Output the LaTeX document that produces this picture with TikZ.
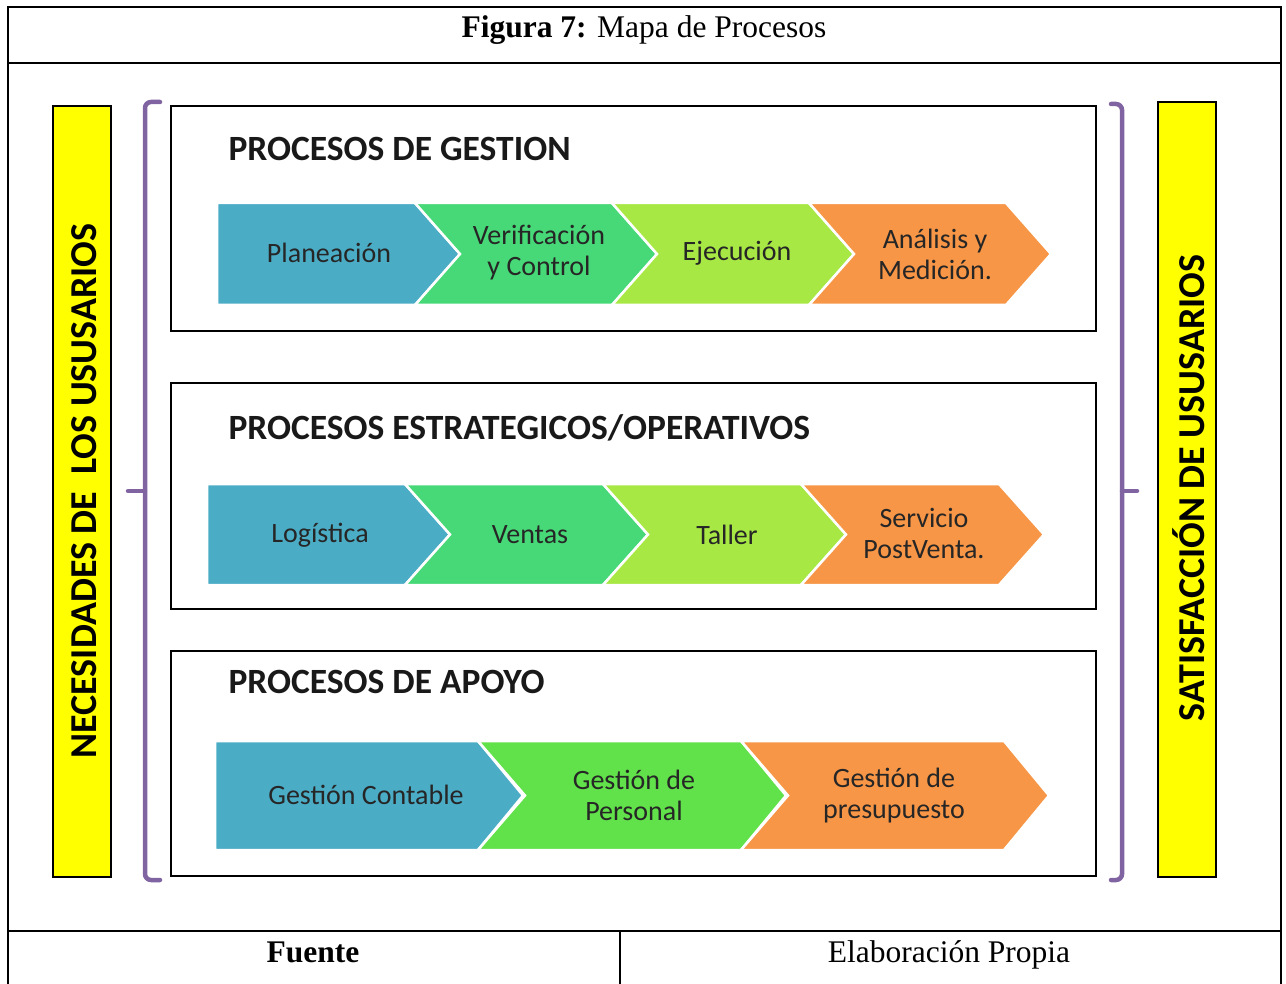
\documentclass[tikz,border=0pt]{standalone}
\usepackage{fontspec}
\setmainfont{Liberation Serif}
\newfontfamily\calib{Carlito}
\definecolor{cblue}{HTML}{4BACC6}
\definecolor{cgreen}{HTML}{47D877}
\definecolor{clime}{HTML}{A8E845}
\definecolor{corange}{HTML}{F79646}
\definecolor{cgreenb}{HTML}{61E14A}
\definecolor{cpurple}{HTML}{8064A2}
\definecolor{cyellow}{HTML}{FFFF00}
\newcommand{\chv}[6]{\filldraw[fill=#5, draw=white, line width=2.5pt, line join=miter]
  (#1,#3) -- ({#1+#2},#3) -- ({#1+#2+45},{(#3+#4)/2}) -- ({#1+#2},#4) -- (#1,#4) -- ({#1+#6},{(#3+#4)/2}) -- cycle;}
\begin{document}
\begin{tikzpicture}[x=1pt,y=-1pt,
  frame/.style={line width=2pt},
  procbox/.style={draw=black, line width=2.6pt, fill=white},
  ybox/.style={draw=black, line width=2.6pt, fill=cyellow},
  brack/.style={draw=cpurple, line width=4.5pt, line cap=round, rounded corners=6pt},
  ctext/.style={font=\calib\fontsize{28}{31}\selectfont, align=center, text=black!85},
  head/.style={font=\calib\bfseries\fontsize{35.5}{40}\selectfont, anchor=west, text=black!90},
  vtext/.style={font=\calib\bfseries\fontsize{38}{44}\selectfont, rotate=90, text=black},
  ttext/.style={font=\fontsize{31.5}{36}\selectfont, anchor=base}]
\useasboundingbox (0,0) rectangle (1286,984);
% table frame
\draw[frame] (8,995) -- (8,7) -- (1281,7) -- (1281,995);
\draw[line width=1.5pt] (8,63) -- (1281,63);
\draw[frame] (8,931) -- (1281,931);
\draw[line width=1.5pt] (620,931) -- (620,995);
\node[ttext] (title) at (644,38) {\textbf{Figura 7:} Mapa de Procesos};
\node[ttext] (fuente) at (313,962) {\textbf{Fuente}};
\node[ttext] (elab) at (949,962) {Elaboración Propia};
% yellow side boxes
\draw[ybox] (53,106) rectangle (111,877);
\node[vtext] (nec) at (84,491) {NECESIDADES DE\ \ LOS USUSARIOS};
\draw[ybox] (1158,102) rectangle (1216,877);
\node[vtext] (sat) at (1189,488) {SATISFACCIÓN DE USUSARIOS};
% brackets
\draw[brack] (160,102) -- (145,102) -- (145,880) -- (160,880);
\draw[brack] (145,491) -- (128,491);
\draw[brack] (1111,104) -- (1122,104) -- (1122,880) -- (1111,880);
\draw[brack] (1122,491) -- (1137,491);
% process boxes
\draw[procbox] (171,106) rectangle (1096,331);
\draw[procbox] (171,383) rectangle (1096,609);
\draw[procbox] (171,651) rectangle (1096,876);
\node[head] (h1) at (225,149) {PROCESOS DE GESTION};
\node[head] (h2) at (225,428) {PROCESOS ESTRATEGICOS/OPERATIVOS};
\node[head] (h3) at (225,682) {PROCESOS DE APOYO};
% row 1
\chv{217}{198}{203}{305}{cblue}{0}
\chv{415}{197}{203}{305}{cgreen}{45}
\chv{612}{197}{203}{305}{clime}{45}
\chv{809}{197}{203}{305}{corange}{45}
\node[ctext] (p1) at (329,253) {Planeación};
\node[ctext] (p2) at (539,253) {Verificación\\y Control};
\node[ctext] (p3) at (737,253) {Ejecución};
\node[ctext] (p4) at (935,254) {Análisis y\\Medición.};
% row 2
\chv{207}{198}{484}{585}{cblue}{0}
\chv{405}{198}{484}{585}{cgreen}{45}
\chv{603}{198}{484}{585}{clime}{45}
\chv{801}{198}{484}{585}{corange}{45}
\node[ctext] (o1) at (320,535) {Logística};
\node[ctext] (o2) at (530,535) {Ventas};
\node[ctext] (o3) at (727,535) {Taller};
\node[ctext] (o4) at (924,533) {Servicio\\PostVenta.};
% row 3
\chv{215}{263}{741}{850}{cblue}{0}
\chv{478}{263}{741}{850}{cgreenb}{47}
\chv{741}{263}{741}{850}{corange}{47}
\node[ctext] (a1) at (366,795) {Gestión Contable};
\node[ctext] (a2) at (634,795) {Gestión de\\Personal};
\node[ctext] (a3) at (894,796) {Gestión de\\presupuesto};
\end{tikzpicture}
\end{document}
